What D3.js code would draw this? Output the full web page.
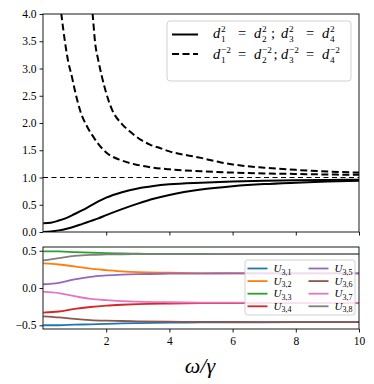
<!DOCTYPE html>
<html>
<head>
<meta charset="utf-8">
<script src="https://cdn.jsdelivr.net/npm/d3@7"></script>
<style>
body { margin: 0; background: #fff; }
svg { font-family: "Liberation Serif", "DejaVu Serif", serif; }
.axis text { font-size: 11.5px; fill: #000; font-family: "Liberation Serif", serif; }
.axis path, .axis line { stroke: #000; stroke-width: 0.9; }
</style>
</head>
<body>
<svg width="374" height="384"></svg>
<script>
// top panel: w/gamma grid and curves
var s1_w = [0.01, 0.25, 0.5, 0.75, 1.0, 1.25, 1.5, 1.75, 2.0, 2.5, 3.0, 3.5, 4.0, 5.0, 6.0, 7.0, 8.0, 9.0, 10]
var s1_v = [0.16, 0.17, 0.21, 0.26, 0.33, 0.40, 0.48, 0.56, 0.63, 0.73, 0.80, 0.845, 0.875, 0.905, 0.925, 0.94, 0.95, 0.955, 0.96]
var s2_w = [0.01, 0.25, 0.5, 0.75, 1.0, 1.25, 1.5, 1.75, 2.0, 2.5, 3.0, 3.5, 4.0, 5.0, 6.0, 7.0, 8.0, 9.0, 10]
var s2_v = [0.0, 0.01, 0.03, 0.06, 0.10, 0.15, 0.20, 0.25, 0.31, 0.42, 0.52, 0.61, 0.68, 0.78, 0.84, 0.88, 0.905, 0.925, 0.94]
var d1_w = [0.5, 0.58, 0.7, 0.8, 0.91, 1.0, 1.18, 1.39, 1.6, 1.8, 2.0, 2.5, 3.0, 3.5, 4.0, 5.0, 6.0, 7.0, 8.0, 9.0, 10]
var d1_v = [4.4, 4.0, 3.47, 3.12, 2.86, 2.62, 2.22, 1.94, 1.74, 1.58, 1.46, 1.31, 1.23, 1.18, 1.15, 1.115, 1.09, 1.075, 1.065, 1.055, 1.05]
var d2_w = [1.5, 1.57, 1.65, 1.75, 1.86, 2.0, 2.18, 2.5, 2.8, 3.1, 3.4, 3.7, 4.0, 5.0, 5.6, 6.0, 7.0, 8.0, 9.0, 10]
var d2_v = [4.4, 4.0, 3.47, 3.15, 2.86, 2.55, 2.25, 1.98, 1.82, 1.69, 1.60, 1.54, 1.48, 1.36, 1.28, 1.24, 1.18, 1.14, 1.11, 1.09]

// bottom panel: U_{3,k}
var u_w = [0.01, 0.5, 1.0, 1.5, 2.0, 2.5, 3.0, 4.0, 5.0, 6.0, 8.0, 10]
var u_names = ["3,1", "3,2", "3,3", "3,4", "3,5", "3,6", "3,7", "3,8"]
var u31 = [-0.50, -0.50, -0.492, -0.487, -0.48, -0.475, -0.47, -0.465, -0.46, -0.46, -0.458, -0.457]
var u32 = [0.33, 0.315, 0.29, 0.26, 0.24, 0.222, 0.212, 0.205, 0.2, 0.198, 0.197, 0.196]
var u33 = [0.49, 0.49, 0.482, 0.474, 0.468, 0.463, 0.46, 0.457, 0.456, 0.455, 0.455, 0.455]
var u34 = [-0.33, -0.315, -0.28, -0.255, -0.237, -0.225, -0.216, -0.208, -0.204, -0.202, -0.201, -0.2]
var u35 = [0.05, 0.07, 0.115, 0.15, 0.168, 0.18, 0.187, 0.192, 0.194, 0.195, 0.196, 0.196]
var u36 = [-0.38, -0.395, -0.415, -0.43, -0.438, -0.443, -0.447, -0.452, -0.455, -0.456, -0.457, -0.457]
var u37 = [-0.05, -0.07, -0.11, -0.145, -0.163, -0.175, -0.183, -0.191, -0.195, -0.197, -0.199, -0.2]
var u38 = [0.37, 0.40, 0.43, 0.445, 0.45, 0.453, 0.455, 0.455, 0.455, 0.455, 0.455, 0.455]
var u_all = [u31, u32, u33, u34, u35, u36, u37, u38]
var u_colors = ["#1f77b4", "#ff7f0e", "#2ca02c", "#d62728", "#9467bd", "#8c564b", "#e377c2", "#7f7f7f"]

var xTicks = [2, 4, 6, 8, 10]
var topYTicks = [0, 0.5, 1, 1.5, 2, 2.5, 3, 3.5, 4]
var botYTicks = [-0.5, 0, 0.5]

const LEFT = 43, RIGHT = 359
const svg = d3.select("svg")

const x = d3.scaleLinear().domain([0, 10]).range([LEFT, RIGHT])
const yTop = d3.scaleLinear().domain([0, 4]).range([232, 14])
const yBot = d3.scaleLinear().domain([-0.55, 0.55]).range([329, 247])

svg.append("clipPath").attr("id", "clipTop").append("rect")
  .attr("x", LEFT).attr("y", 14).attr("width", RIGHT - LEFT).attr("height", 218)
svg.append("clipPath").attr("id", "clipBot").append("rect")
  .attr("x", LEFT).attr("y", 247).attr("width", RIGHT - LEFT).attr("height", 82)

// ---- top panel
const topG = svg.append("g").attr("clip-path", "url(#clipTop)")
const lineTop = d3.line().x(d => x(d[0])).y(d => yTop(d[1])).curve(d3.curveMonotoneX)

topG.append("line").attr("x1", LEFT).attr("x2", RIGHT)
  .attr("y1", yTop(1)).attr("y2", yTop(1))
  .attr("stroke", "#000").attr("stroke-width", 1.2).attr("stroke-dasharray", "5,3.5")

var tops = [[s1_w, s1_v, null], [s2_w, s2_v, null], [d1_w, d1_v, "7,3.5"], [d2_w, d2_v, "7,3.5"]]
tops.forEach(function(t){
  topG.append("path").datum(d3.zip(t[0], t[1]))
    .attr("d", lineTop).attr("fill", "none").attr("stroke", "#000")
    .attr("stroke-width", 2).attr("stroke-dasharray", t[2])
})

svg.append("g").attr("class", "axis").attr("transform", "translate(" + LEFT + ",0)")
  .call(d3.axisLeft(yTop).tickValues(topYTicks).tickFormat(d3.format(".1f")).tickSize(3.5).tickPadding(3))
svg.append("g").attr("class", "axis").attr("transform", "translate(0,232)")
  .call(d3.axisBottom(x).tickValues(xTicks).tickFormat("").tickSize(3.5))
svg.append("rect").attr("x", LEFT).attr("y", 14).attr("width", RIGHT - LEFT).attr("height", 218)
  .attr("fill", "none").attr("stroke", "#000").attr("stroke-width", 0.9)

// ---- bottom panel
const botG = svg.append("g").attr("clip-path", "url(#clipBot)")
const lineBot = d3.line().x(d => x(d[0])).y(d => yBot(d[1])).curve(d3.curveMonotoneX)
u_all.forEach(function(u, i){
  botG.append("path").datum(d3.zip(u_w, u))
    .attr("d", lineBot).attr("fill", "none").attr("stroke", u_colors[i]).attr("stroke-width", 1.8)
})

svg.append("g").attr("class", "axis").attr("transform", "translate(" + LEFT + ",0)")
  .call(d3.axisLeft(yBot).tickValues(botYTicks).tickFormat(d3.format(".1f")).tickSize(3.5).tickPadding(3))
svg.append("g").attr("class", "axis").attr("transform", "translate(0,329)")
  .call(d3.axisBottom(x).tickValues(xTicks).tickSize(3.5).tickPadding(4))
svg.append("rect").attr("x", LEFT).attr("y", 247).attr("width", RIGHT - LEFT).attr("height", 82)
  .attr("fill", "none").attr("stroke", "#000").attr("stroke-width", 0.9)
svg.selectAll(".axis .domain").remove()
svg.selectAll(".axis").attr("font-family", null).attr("font-size", null)
svg.selectAll(".axis text").attr("font-family", "Liberation Serif")

svg.append("text").attr("x", 200).attr("y", 373).attr("text-anchor", "middle")
  .style("font-size", "22px").style("font-style", "italic").text("ω/γ")

// ---- top legend
var fs = 14.5
function term(g, xp, y, sub, sup){
  var d = g.append("text").attr("x", xp).attr("y", y).style("font-style", "italic").style("font-size", fs + "px").text("d")
  var w = d.node().getComputedTextLength() + 0.8
  g.append("text").attr("x", xp + w).attr("y", y + 4).style("font-size", (fs * 0.64) + "px").text(sub)
  g.append("text").attr("x", xp + w).attr("y", y - 6).style("font-size", (fs * 0.64) + "px").text(sup)
}
const lg = svg.append("g")
lg.append("rect").attr("x", 167).attr("y", 21).attr("width", 184).attr("height", 60).attr("rx", 3)
  .attr("fill", "#fff").attr("fill-opacity", 0.8).attr("stroke", "#ccc").attr("stroke-width", 0.9)
lg.append("line").attr("x1", 172).attr("x2", 198).attr("y1", 34.5).attr("y2", 34.5)
  .attr("stroke", "#000").attr("stroke-width", 2)
lg.append("line").attr("x1", 172).attr("x2", 198).attr("y1", 54).attr("y2", 54)
  .attr("stroke", "#000").attr("stroke-width", 2).attr("stroke-dasharray", "7,3.5")

// element slots: d1, =, d2, ;, d3, =, d4
var slots = [213, 238, 254, 273.5, 281, 306, 322]
function row(y, sup, semi){
  term(lg, slots[0], y, "1", sup)
  lg.append("text").attr("x", slots[1]).attr("y", y).style("font-size", fs + "px").text("=")
  term(lg, slots[2], y, "2", sup)
  lg.append("text").attr("x", semi).attr("y", y).style("font-size", fs + "px").text(";")
  term(lg, slots[4], y, "3", sup)
  lg.append("text").attr("x", slots[5]).attr("y", y).style("font-size", fs + "px").text("=")
  term(lg, slots[6], y, "4", sup)
}
row(38, "2", 271)
row(59, "−2", slots[3])

// ---- bottom legend
const bl = svg.append("g")
bl.append("rect").attr("x", 245).attr("y", 260).attr("width", 110).attr("height", 55).attr("rx", 2.5)
  .attr("fill", "#fff").attr("fill-opacity", 0.8).attr("stroke", "#ccc").attr("stroke-width", 0.9)
u_names.forEach(function(n, i){
  var col = Math.floor(i / 4), r = i % 4
  var lx = 247.5 + col * 61, ly = 268.5 + r * 12.6
  bl.append("line").attr("x1", lx).attr("x2", lx + 20).attr("y1", ly).attr("y2", ly)
    .attr("stroke", u_colors[i]).attr("stroke-width", 1.8)
  var t = bl.append("text").attr("x", lx + 26).attr("y", ly + 3.5).style("font-size", "11px")
  t.append("tspan").style("font-style", "italic").text("U")
  t.append("tspan").attr("dy", 2.5).style("font-size", "8px").text(n)
})
</script>
</body>
</html>
